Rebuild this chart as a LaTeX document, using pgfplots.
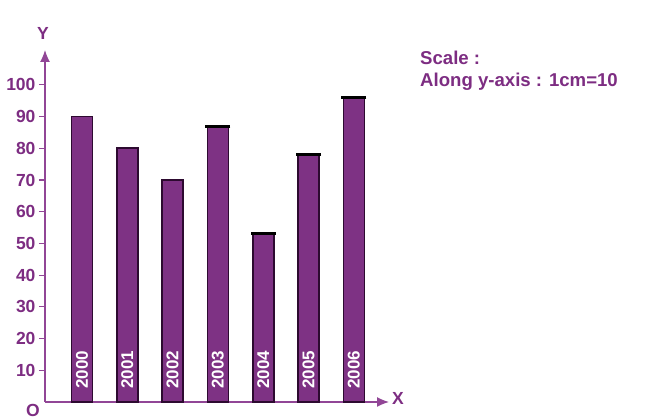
\documentclass[border=0pt]{standalone}
\usepackage{pgfplots}
\pgfplotsset{compat=1.18}
\usetikzlibrary{arrows.meta}
\usepackage{fontspec}
\setmainfont{Liberation Sans}
\definecolor{barpurple}{RGB}{126,50,132}
\definecolor{axpurple}{RGB}{145,70,150}
\definecolor{txtpurple}{RGB}{125,45,130}
\definecolor{bardark}{RGB}{45,10,48}
\begin{document}
\begin{tikzpicture}[x=1pt,y=1pt]
\path[use as bounding box] (0,0) rectangle (662,419);
\begin{axis}[
  at={(45pt,17pt)}, anchor=south west,
  scale only axis, width=344pt, height=352pt,
  xmin=-0.817, xmax=6.777, ymin=0, ymax=111,
  axis lines=left,
  axis line style={axpurple, line width=1.3pt, -{Latex[length=12pt,width=10pt]}},
  xtick=\empty,
  ytick={10,20,...,100},
  tick align=outside, major tick length=6pt,
  tick style={axpurple, line width=1.2pt},
  /pgf/number format/assume math mode=true,
  yticklabel style={font=\bfseries\fontsize{17.5}{17.5}\selectfont, text=txtpurple},
  clip=false,
]
\addplot[ybar, bar width=21pt, bar shift=0pt, fill=barpurple, draw=bardark, line width=1.6pt]
  coordinates {(0,90) (1,80) (2,70) (3,87) (4,53) (5,78) (6,96)};
\addplot[only marks, mark=-, mark size=12.5pt, mark options={line width=3pt, black}]
  coordinates {(3,87) (4,53) (5,78) (6,96)};
\foreach \i/\yr in {0/2000,1/2001,2/2002,3/2003,4/2004,5/2005,6/2006}{
  \edef\tmp{\noexpand\node[rotate=90, anchor=west, inner sep=0pt, text=white, font=\noexpand\bfseries\noexpand\fontsize{17}{17}\noexpand\selectfont] at (axis cs:\i,4.2) {\yr};}
  \tmp
}
\end{axis}
\node[text=txtpurple, font=\bfseries\fontsize{17.5}{17.5}\selectfont] at (43,386) {Y};
\node[text=txtpurple, font=\bfseries\fontsize{17.5}{17.5}\selectfont] at (398,21) {X};
\node[text=txtpurple, font=\bfseries\fontsize{17.5}{17.5}\selectfont] at (33,9) {O};
\node[anchor=west, inner sep=0pt, text=txtpurple, font=\bfseries\fontsize{18.6}{18.6}\selectfont] at (420,361) {Scale :};
\node[anchor=west, inner sep=0pt, text=txtpurple, font=\bfseries\fontsize{18.6}{18.6}\selectfont] at (420,337) {Along y-axis : 1cm=10};
\end{tikzpicture}
\end{document}
